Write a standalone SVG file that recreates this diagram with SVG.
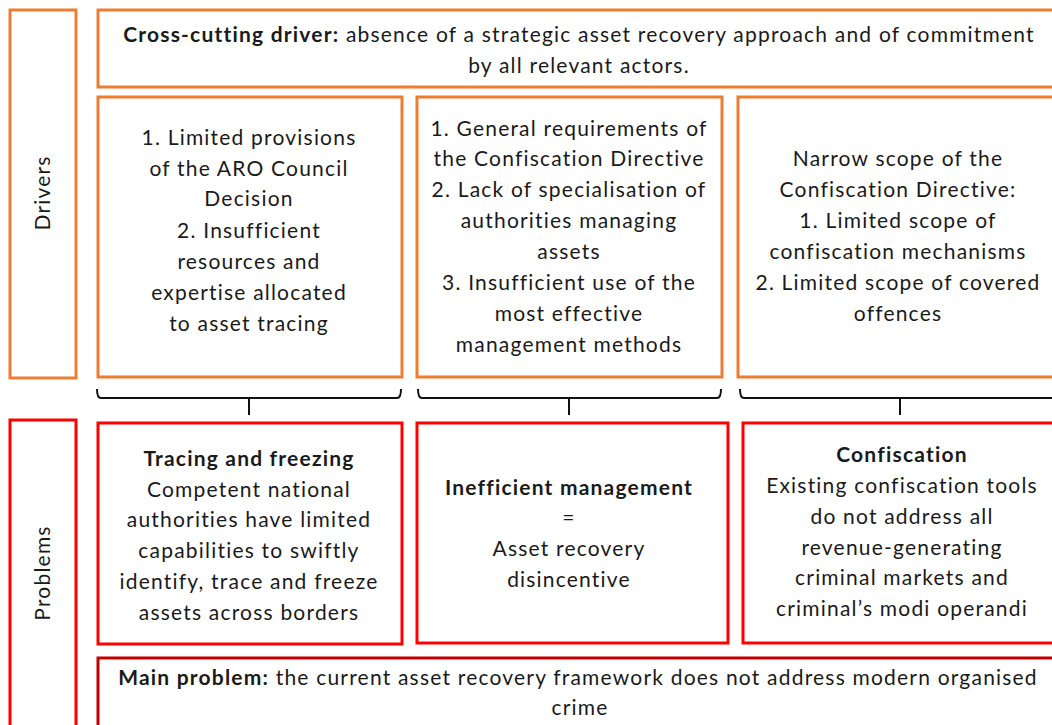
<svg xmlns="http://www.w3.org/2000/svg" width="1052" height="725" viewBox="0 0 1052 725">
<style>
.o{fill:#fff;stroke:#ED7D31;stroke-width:3}
.r{fill:#fff;stroke:#FF0000;stroke-width:3}
.dr{fill:#fff;stroke:#C00000;stroke-width:3}
text{font-family:Lato,"Liberation Sans",sans-serif;font-size:21px;letter-spacing:1.2px;fill:#1a1a1a}
.c{text-anchor:middle}
.b{font-weight:bold}
.br{fill:none;stroke:#111;stroke-width:2}
</style>
<rect width="1052" height="725" fill="#fff"/>
<g id="drivers-label">
<rect class="o" x="10" y="10" width="66" height="368"/>
<text class="c" transform="translate(50,193) rotate(-90)">Drivers</text>
</g>
<g id="cross-cutting">
<rect class="o" x="98" y="10" width="970" height="77"/>
<text class="c" x="579" y="42"><tspan class="b">Cross-cutting driver:</tspan> absence of a strategic asset recovery approach and of commitment</text>
<text class="c" x="579" y="73">by all relevant actors.</text>
</g>
<g id="driver1">
<rect class="o" x="98" y="97" width="304" height="280"/>
<text class="c" x="249"><tspan x="249" y="145">1. Limited provisions</tspan><tspan x="249" y="176">of the ARO Council</tspan><tspan x="249" y="206">Decision</tspan><tspan x="249" y="238">2. Insufficient</tspan><tspan x="249" y="269">resources and</tspan><tspan x="249" y="300">expertise allocated</tspan><tspan x="249" y="331">to asset tracing</tspan></text>
</g>
<g id="driver2">
<rect class="o" x="417" y="97" width="305" height="280"/>
<text class="c"><tspan x="569" y="136">1. General requirements of</tspan><tspan x="569" y="166">the Confiscation Directive</tspan><tspan x="569" y="197">2. Lack of specialisation of</tspan><tspan x="569" y="228">authorities managing</tspan><tspan x="569" y="259">assets</tspan><tspan x="569" y="290">3. Insufficient use of the</tspan><tspan x="569" y="321">most effective</tspan><tspan x="569" y="352">management methods</tspan></text>
</g>
<g id="driver3">
<rect class="o" x="738" y="97" width="330" height="280"/>
<text class="c"><tspan x="898" y="166">Narrow scope of the</tspan><tspan x="898" y="197">Confiscation Directive:</tspan><tspan x="898" y="228">1. Limited scope of</tspan><tspan x="898" y="259">confiscation mechanisms</tspan><tspan x="898" y="290">2. Limited scope of covered</tspan><tspan x="898" y="321">offences</tspan></text>
</g>
<g id="connectors">
<path class="br" d="M97,389 q0,9 4,9 H397 q4,0 4,-9 M249,398 V415"/>
<path class="br" d="M418,389 q0,9 4,9 H717 q4,0 4,-9 M569,398 V415"/>
<path class="br" d="M740,389 q0,9 4,9 H1060 M900,398 V415"/>
</g>
<g id="problems-label">
<rect class="r" x="10" y="420" width="66" height="320"/>
<text class="c" transform="translate(50,573) rotate(-90)">Problems</text>
</g>
<g id="problem1">
<rect class="r" x="98" y="423" width="304" height="221"/>
<text class="c"><tspan class="b" x="249" y="466">Tracing and freezing</tspan><tspan x="249" y="497">Competent national</tspan><tspan x="249" y="527">authorities have limited</tspan><tspan x="249" y="558">capabilities to swiftly</tspan><tspan x="249" y="589">identify, trace and freeze</tspan><tspan x="249" y="620">assets across borders</tspan></text>
</g>
<g id="problem2">
<rect class="r" x="417" y="423" width="311" height="220"/>
<text class="c"><tspan class="b" x="569" y="495">Inefficient management</tspan><tspan x="569" y="525">=</tspan><tspan x="569" y="556">Asset recovery</tspan><tspan x="569" y="587">disincentive</tspan></text>
</g>
<g id="problem3">
<rect class="r" x="743" y="423" width="325" height="220"/>
<text class="c"><tspan class="b" x="902" y="462">Confiscation</tspan><tspan x="902" y="493">Existing confiscation tools</tspan><tspan x="902" y="524">do not address all</tspan><tspan x="902" y="555">revenue-generating</tspan><tspan x="902" y="585">criminal markets and</tspan><tspan x="902" y="616">criminal’s modi operandi</tspan></text>
</g>
<g id="main-problem">
<rect class="dr" x="98" y="658" width="970" height="80"/>
<text class="c" x="578" y="685"><tspan class="b">Main problem:</tspan> the current asset recovery framework does not address modern organised</text>
<text class="c" x="580" y="715">crime</text>
</g>
</svg>
